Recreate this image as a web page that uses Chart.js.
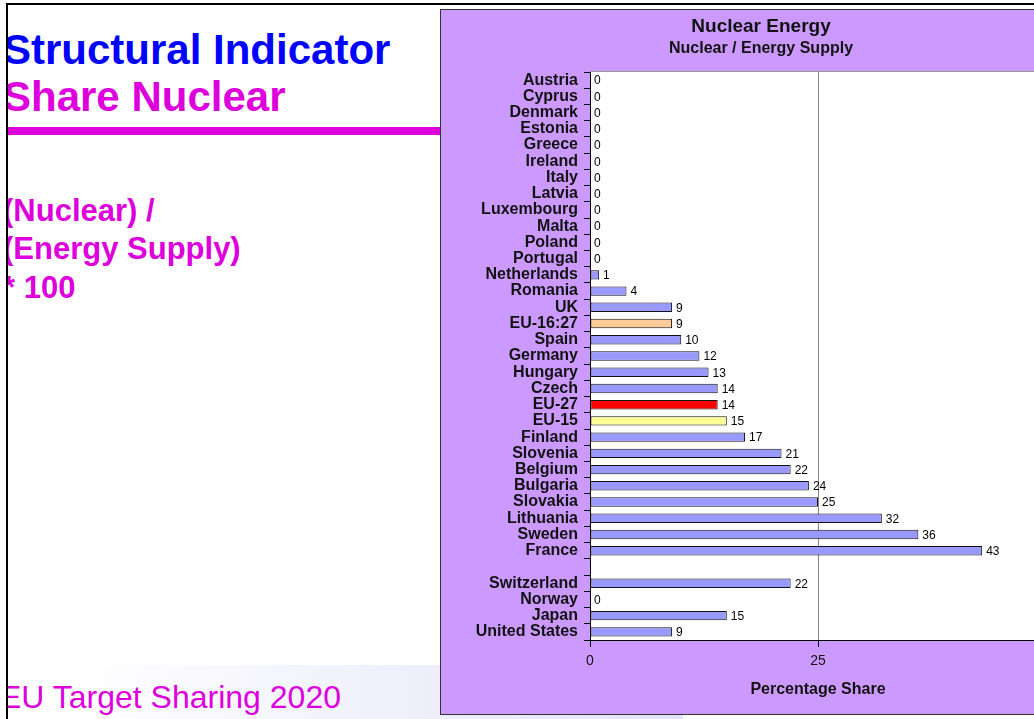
<!DOCTYPE html>
<html>
<head>
<meta charset="utf-8">
<script src="https://cdn.jsdelivr.net/npm/chart.js@4/dist/chart.umd.min.js"></script>
<style>
  html, body { margin: 0; padding: 0; width: 1034px; height: 719px; overflow: hidden; background: #fff; }
  body { position: relative; font-family: "Liberation Sans", Arial, sans-serif; }
  #topline { position: absolute; left: 6px; top: 3px; width: 1100px; height: 2px; background: #000; }
  #leftline { position: absolute; left: 6px; top: 3px; width: 2px; height: 720px; background: #000; }
  #slide { position: absolute; left: 8px; top: 5px; width: 1100px; height: 714px; overflow: hidden; }
  .t { position: absolute; left: -5px; white-space: nowrap; font-weight: bold; line-height: 1; }
  #band { position: absolute; left: 0; top: 660px; width: 675px; height: 60px;
          background: linear-gradient(to right, #ffffff 10%, #e2e2f8 100%); }
  #rule { position: absolute; left: 0; top: 122px; width: 1100px; height: 8px; background: #dd00dd; }
  #box { position: absolute; left: 440px; top: 9px; width: 640px; height: 704px; border: 1px solid #333; background: #cc99ff; }
  canvas { display: block; }
</style>
</head>
<body>
<div id="topline"></div>
<div id="slide">
  <div id="rule"></div>
  <div id="band"></div>
  <div class="t" style="top:24px;font-size:42px;color:#0000ff;">Structural Indicator</div>
  <div class="t" style="top:71px;font-size:42px;color:#dd00dd;">Share Nuclear</div>
  <div class="t" style="top:190px;font-size:31px;color:#dd00dd;">(Nuclear) /</div>
  <div class="t" style="top:228px;font-size:31px;color:#dd00dd;">(Energy Supply)</div>
  <div class="t" style="top:267px;font-size:31px;color:#dd00dd;">* 100</div>
  <div class="t" style="top:676px;left:-8px;font-size:32px;font-weight:normal;color:#dd00dd;">EU Target Sharing 2020</div>
</div>
<div id="leftline"></div>
<div id="box"><canvas id="nuclear-chart" width="640" height="704"></canvas></div>

<script>
const countries = [
  'Austria', 'Cyprus', 'Denmark', 'Estonia', 'Greece', 'Ireland', 'Italy',
  'Latvia', 'Luxembourg', 'Malta', 'Poland', 'Portugal', 'Netherlands',
  'Romania', 'UK', 'EU-16:27', 'Spain', 'Germany', 'Hungary', 'Czech',
  'EU-27', 'EU-15', 'Finland', 'Slovenia', 'Belgium', 'Bulgaria', 'Slovakia',
  'Lithuania', 'Sweden', 'France', '', 'Switzerland', 'Norway', 'Japan',
  'United States',
];
const nuclearShare = [
  0, 0, 0, 0, 0, 0, 0, 0, 0, 0, 0, 0, 1,
  4, 9, 9, 10, 12, 13, 14,
  14, 15, 17, 21, 22, 24, 25,
  32, 36, 43, null, 22, 0, 15,
  9,
];
const xTicks = [0, 25, 50];
const chartTitle = 'Nuclear Energy';
const chartSubtitle = 'Nuclear / Energy Supply';

const barColors = countries.map((c) => {
  if (c === 'EU-16:27') return '#ffcc99';
  if (c === 'EU-27') return '#ff0000';
  if (c === 'EU-15') return '#ffff99';
  return '#9999ff';
});

// white plot area with grey top edge
const plotBackground = {
  id: 'plotBackground',
  beforeDraw(chart) {
    const { ctx, chartArea: a } = chart;
    ctx.save();
    ctx.fillStyle = '#fff';
    ctx.fillRect(a.left, a.top, a.right - a.left, a.bottom - a.top);
    ctx.strokeStyle = '#999';
    ctx.lineWidth = 1;
    ctx.beginPath();
    ctx.moveTo(a.left, a.top - 0.5);
    ctx.lineTo(a.right, a.top - 0.5);
    ctx.stroke();
    ctx.restore();
  },
};

// titles centred on the whole chart box (the plot runs past the slide edge)
const boxTitles = {
  id: 'boxTitles',
  afterDraw(chart) {
    const { ctx, width } = chart;
    ctx.save();
    ctx.fillStyle = '#111';
    ctx.textAlign = 'center';
    ctx.textBaseline = 'middle';
    ctx.font = 'bold 19px "Liberation Sans", sans-serif';
    ctx.fillText(chartTitle, width / 2, 17);
    ctx.font = 'bold 16px "Liberation Sans", sans-serif';
    ctx.fillText(chartSubtitle, width / 2, 39);
    ctx.restore();
  },
};

// value labels at the end of each bar
const barValues = {
  id: 'barValues',
  afterDatasetsDraw(chart) {
    const { ctx } = chart;
    const meta = chart.getDatasetMeta(0);
    ctx.save();
    ctx.font = '12px "Liberation Sans Narrow", "Liberation Sans", sans-serif';
    ctx.fillStyle = '#000';
    ctx.textBaseline = 'middle';
    meta.data.forEach((bar, i) => {
      const v = nuclearShare[i];
      if (v === null) return;
      ctx.fillText(String(v), bar.x + 4, bar.y + 1);
    });
    ctx.restore();
  },
};

new Chart(document.getElementById('nuclear-chart'), {
  type: 'bar',
  data: {
    labels: countries,
    datasets: [
      {
        data: nuclearShare,
        backgroundColor: barColors,
        borderColor: '#111',
        borderWidth: 1,
        borderSkipped: false,
        barPercentage: 0.58,
        categoryPercentage: 1,
      },
    ],
  },
  options: {
    indexAxis: 'y',
    responsive: false,
    animation: false,
    layout: { padding: { left: 0, right: 35, top: 62, bottom: 0 } },
    plugins: {
      legend: { display: false },
      tooltip: { enabled: false },
    },
    scales: {
      x: {
        min: 0,
        max: 50,
        afterBuildTicks(scale) {
          scale.ticks = xTicks.map((v) => ({ value: v }));
        },
        afterFit(scale) { scale.height = 74; },
        grid: {
          color: '#888',
          tickColor: '#000',
          tickLength: 7,
        },
        border: { color: '#000' },
        ticks: {
          color: '#111',
          padding: 6,
          font: { family: 'Liberation Sans', size: 14 },
        },
        title: {
          display: true,
          text: 'Percentage Share',
          color: '#111',
          font: { family: 'Liberation Sans', size: 16, weight: 'bold' },
          padding: { top: 0, bottom: 15 },
        },
      },
      y: {
        afterFit(scale) { scale.width = 149; },
        grid: {
          drawOnChartArea: false,
          tickColor: '#000',
          tickLength: 6,
        },
        border: { color: '#000' },
        ticks: {
          color: '#111',
          padding: 6,
          autoSkip: false,
          font: { family: 'Liberation Sans', size: 16, weight: 'bold' },
        },
      },
    },
  },
  plugins: [plotBackground, boxTitles, barValues],
});
</script>
</body>
</html>
